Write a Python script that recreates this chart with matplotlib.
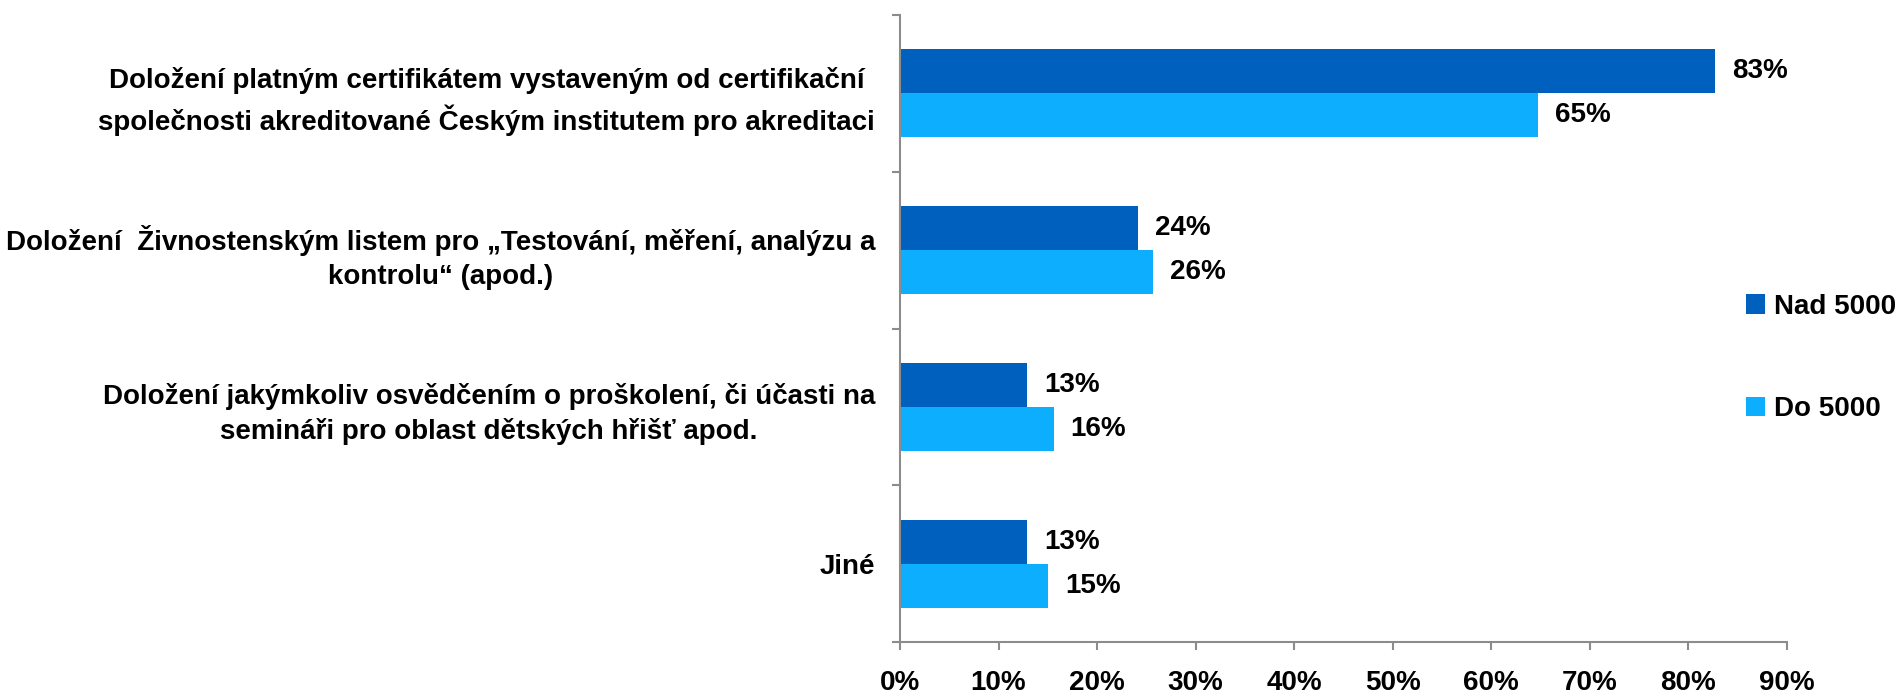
import matplotlib
matplotlib.use("Agg")
import matplotlib.pyplot as plt
from matplotlib import font_manager

categories = [
    "Doložení platným certifikátem vystaveným od certifikační\nspolečnosti akreditované Českým institutem pro akreditaci",
    "Doložení  Živnostenským listem pro „Testování, měření, analýzu a\nkontrolu“ (apod.)",
    "Doložení jakýmkoliv osvědčením o proškolení, či účasti na\nsemináři pro oblast dětských hřišť apod.",
    "Jiné",
]
series_names = ["Nad 5000", "Do 5000"]
nad_5000 = [82.7, 24.1, 12.9, 12.9]
do_5000 = [64.7, 25.7, 15.6, 15.0]
x_ticks = [0, 10, 20, 30, 40, 50, 60, 70, 80, 90]

colors = ["#0060BE", "#0EAEFF"]

names = {f.name for f in font_manager.fontManager.ttflist}
fam = "Liberation Sans Narrow" if "Liberation Sans Narrow" in names else "Liberation Sans"
plt.rcParams["font.family"] = [fam, "DejaVu Sans"]
plt.rcParams["font.weight"] = "bold"

fig = plt.figure(figsize=(19.04, 6.95), dpi=100)
ax = fig.add_axes([900/1904, 1 - 642/695, (1787-900)/1904, (642-15)/695])

h = 0.28
ypos = list(range(len(categories)))
b1 = ax.barh([y - h/2 for y in ypos], nad_5000, height=h, color=colors[0], label=series_names[0])
b2 = ax.barh([y + h/2 for y in ypos], do_5000, height=h, color=colors[1], label=series_names[1])

fs = 20
for bars, vals in ((b1, nad_5000), (b2, do_5000)):
    for rect, v in zip(bars, vals):
        ax.annotate(f"{v:.0f}%", (rect.get_width(), rect.get_y() + rect.get_height()/2),
                    xytext=(17, 0), textcoords="offset pixels",
                    ha="left", va="center", fontsize=fs, fontweight="bold", color="black")

ax.set_xlim(0, 90)
ax.set_ylim(3.5, -0.5)
ax.set_xticks(x_ticks)
ax.set_xticklabels([f"{t}%" for t in x_ticks], fontsize=fs, fontweight="bold")
ax.set_yticks([-0.5, 0.5, 1.5, 2.5, 3.5])
ax.set_yticklabels([])
ax.set_yticks(ypos, minor=True)
ax.set_yticklabels(categories, minor=True, fontsize=fs, fontweight="bold",
                   multialignment="center", linespacing=1.4)
ax.tick_params(axis="y", which="minor", length=0, pad=18)
ax.tick_params(axis="y", which="major", length=6, color="#8C8C8C", width=1.5)
ax.tick_params(axis="x", which="major", length=6, color="#8C8C8C", width=1.5, pad=14)

for s in ("top", "right"):
    ax.spines[s].set_visible(False)
for s in ("left", "bottom"):
    ax.spines[s].set_color("#8C8C8C")
    ax.spines[s].set_linewidth(1.5)

leg = fig.legend(handles=[b1, b2], labels=series_names, loc="center left",
                 bbox_to_anchor=(1746/1904, 1 - 358/695), frameon=False,
                 fontsize=fs, handlelength=0.7, handleheight=0.7, handletextpad=0.3,
                 labelspacing=2.75, borderaxespad=0, borderpad=0)

fig.savefig("out.png", dpi=100)
